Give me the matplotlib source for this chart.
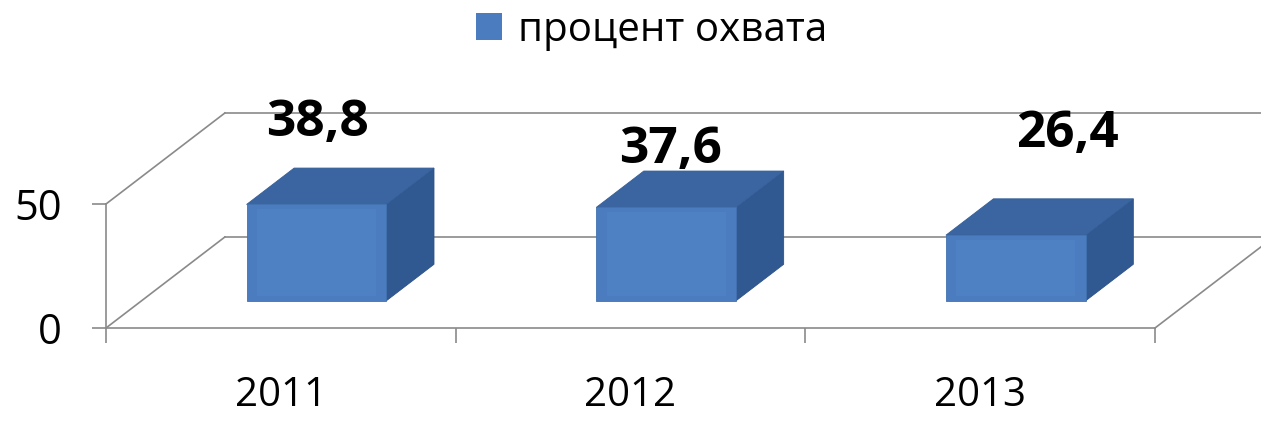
import matplotlib
matplotlib.use("Agg")
import matplotlib.pyplot as plt
from matplotlib.patches import Polygon, Patch

plt.rcParams["font.family"] = ["Open Sans", "DejaVu Sans"]

# === Data ===
YEARS = ["2011", "2012", "2013"]
COVERAGE = [38.8, 37.6, 26.4]
VALUE_LABELS = ["38,8", "37,6", "26,4"]
SERIES_NAME = "процент охвата"
Y_TICKS = [0, 50]

# label anchor points (category units, value units) - Excel put them oddly
LABEL_POS = [(0.605, 82.5), (1.615, 71.6), (2.75, 78.4)]

# === Oblique "3D" projection settings ===
DX = 0.34      # depth shift in category units
DY = 36.7      # depth shift in value units
Z0, Z1 = 0.3, 0.7      # bar depth span (fraction of floor depth)
BAR_L, BAR_R = 0.3, 0.7  # bar span within a category

FRONT = "#4a7cbf"
FRONT_IN = "#5085c8"
TOP = "#3a65a1"
SIDE = "#305891"
GRID = "#8a8a8a"


def proj(x, y, z):
    return (x + z * DX, y + z * DY)


fig = plt.figure(figsize=(12.61, 4.21), dpi=100)
ax = fig.add_axes([106 / 1261, 93 / 421, 1049 / 1261, 124 / 421])
ax.set_xlim(0, len(YEARS))
ax.set_ylim(0, 50)
ax.patch.set_alpha(0)

for s in ["top", "right"]:
    ax.spines[s].set_visible(False)
for s in ["left", "bottom"]:
    ax.spines[s].set_color(GRID)
    ax.spines[s].set_linewidth(1.2)

# back wall gridlines + wall/floor edges
lw = 1.2
for v in Y_TICKS:
    (xa, ya), (xb, yb) = proj(0, v, 1), proj(len(YEARS), v, 1)
    ax.plot([xa, xb], [ya, yb], color=GRID, lw=lw, clip_on=False, zorder=1)
    (xa, ya), (xb, yb) = proj(0, v, 0), proj(0, v, 1)
    ax.plot([xa, xb], [ya, yb], color=GRID, lw=lw, clip_on=False, zorder=1)
(xa, ya), (xb, yb) = proj(len(YEARS), 0, 0), proj(len(YEARS), 0, 1)
ax.plot([xa, xb], [ya, yb], color=GRID, lw=lw, clip_on=False, zorder=1)

# bars
for i, v in enumerate(COVERAGE):
    l, r = i + BAR_L, i + BAR_R
    front = [proj(l, 0, Z0), proj(r, 0, Z0), proj(r, v, Z0), proj(l, v, Z0)]
    top = [proj(l, v, Z0), proj(r, v, Z0), proj(r, v, Z1), proj(l, v, Z1)]
    side = [proj(r, 0, Z0), proj(r, 0, Z1), proj(r, v, Z1), proj(r, v, Z0)]
    ax.add_patch(Polygon(side, closed=True, fc=SIDE, ec="#2c5087", lw=0.6,
                         clip_on=False, zorder=3))
    ax.add_patch(Polygon(top, closed=True, fc=TOP, ec="#345e98", lw=0.6,
                         clip_on=False, zorder=3))
    ax.add_patch(Polygon(front, closed=True, fc=FRONT, ec="#4372b1", lw=0.6,
                         clip_on=False, zorder=3))
    inner = [proj(l + 0.03, 2, Z0), proj(r - 0.03, 2, Z0),
             proj(r - 0.03, v - 2, Z0), proj(l + 0.03, v - 2, Z0)]
    ax.add_patch(Polygon(inner, closed=True, fc=FRONT_IN, ec="none",
                         clip_on=False, zorder=3, alpha=0.6))

for (lx, ly), txt in zip(LABEL_POS, VALUE_LABELS):
    ax.text(lx, ly, txt, ha="center", va="center", fontsize=37,
            fontweight="bold", color="black", zorder=5, clip_on=False)

# ticks
ax.set_yticks(Y_TICKS)
ax.set_yticklabels([str(t) for t in Y_TICKS])
ax.tick_params(axis="y", direction="out", length=10, width=1.2, color=GRID,
               labelsize=30, pad=22)
ax.set_xticks(range(len(YEARS) + 1))
ax.set_xticklabels([])
ax.set_xticks([i + 0.5 for i in range(len(YEARS))], minor=True)
ax.set_xticklabels(YEARS, minor=True)
ax.tick_params(axis="x", which="major", direction="out", length=11,
               width=1.2, color=GRID)
ax.tick_params(axis="x", which="minor", length=0, labelsize=29, pad=34)

handle = Patch(facecolor=FRONT, edgecolor="none", label=SERIES_NAME)
fig.legend(handles=[handle], loc="center", bbox_to_anchor=(0.517, 0.928),
           frameon=False, fontsize=29, handlelength=0.65, handleheight=0.65,
           handletextpad=0.4)

fig.savefig("out.png", dpi=100)
